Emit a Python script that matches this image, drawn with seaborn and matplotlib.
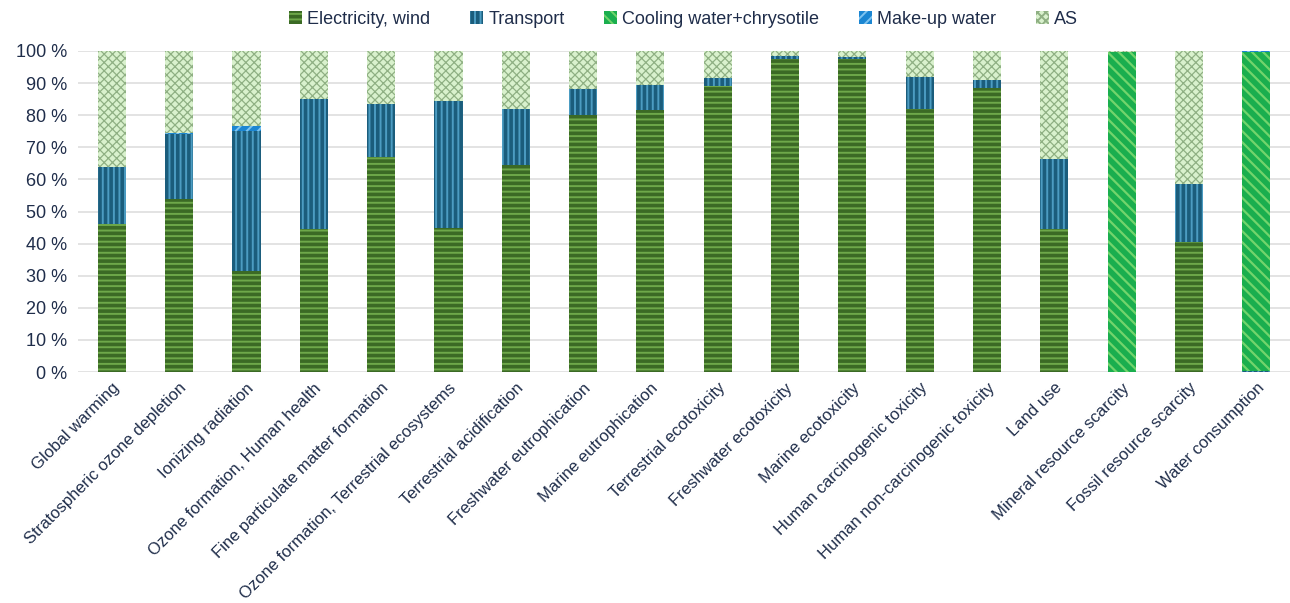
import numpy as np
import matplotlib
matplotlib.use("Agg")
import matplotlib.pyplot as plt
import seaborn as sns
from matplotlib.patches import Patch

categories = [
    "Global warming", "Stratospheric ozone depletion", "Ionizing radiation",
    "Ozone formation, Human health", "Fine particulate matter formation",
    "Ozone formation, Terrestrial ecosystems", "Terrestrial acidification",
    "Freshwater eutrophication", "Marine eutrophication", "Terrestrial ecotoxicity",
    "Freshwater ecotoxicity", "Marine ecotoxicity", "Human carcinogenic toxicity",
    "Human non-carcinogenic toxicity", "Land use", "Mineral resource scarcity",
    "Fossil resource scarcity", "Water consumption",
]

# Shares in percent per impact category
electricity_wind = [46, 54, 31.5, 44.5, 67, 45, 64.5, 80, 81.5, 89, 97.5, 97.5, 82, 88.5, 44.5, 0, 40.5, 0]
transport = [18, 20, 43.5, 40.5, 16.5, 39.5, 17.5, 8, 8, 2.5, 1, 0.5, 10, 2.5, 22, 0, 18, 0.3]
cooling_water = [0, 0, 0, 0, 0, 0, 0, 0, 0, 0, 0, 0, 0, 0, 0, 99.8, 0, 99.4]
makeup_water = [0, 0.5, 1.5, 0, 0, 0, 0, 0, 0, 0, 0, 0, 0, 0, 0, 0, 0, 0.3]

series_names = ["Electricity, wind", "Transport", "Cooling water+chrysotile", "Make-up water", "AS"]

stack = np.array([electricity_wind, transport, cooling_water, makeup_water], dtype=float)
as_share = 100 - stack.sum(axis=0)
stack = np.vstack([stack, as_share])

styles = [
    dict(face="#3b6a25", hatch_col="#6ea84a", hatch="---", hlw=1.4),
    dict(face="#1b5d7c", hatch_col="#4c9cc2", hatch="|||", hlw=1.4),
    dict(face="#1aae4e", hatch_col="#72d46c", hatch="\\\\\\", hlw=1.6),
    dict(face="#1b86d2", hatch_col="#7fc4f0", hatch="///", hlw=1.4),
    dict(face="#d9f1cd", hatch_col="#8fb083", hatch="xxxx", hlw=0.9),
]

sns.set_theme(style="white")
plt.rcParams["font.family"] = ["Liberation Sans", "DejaVu Sans"]
plt.rcParams["hatch.linewidth"] = 1.4

fig = plt.figure(figsize=(12.9, 6.03), dpi=100)
ax = fig.add_axes([0.0605, 0.383, 0.9395, 0.5325])

text_col = "#1f2d4a"
bottom = np.zeros(len(categories))
for name, vals, st in zip(series_names, stack, styles):
    n_before = len(ax.patches)
    sns.barplot(x=categories, y=vals, bottom=bottom, color=st["face"], width=0.42,
                saturation=1, ax=ax, linewidth=0, edgecolor=st["hatch_col"])
    for p in ax.patches[n_before:]:
        p.set_hatch(st["hatch"])
        p.set_facecolor(st["face"])
        p.set_edgecolor(st["hatch_col"])
        p.set_linewidth(0)
        if hasattr(p, "set_hatch_linewidth"):
            p.set_hatch_linewidth(st["hlw"])
    bottom = bottom + vals

ax.set_xlim(-0.5, len(categories) - 0.5)
ax.set_ylim(0, 100)
ax.set_yticks(np.arange(0, 101, 10))
ax.set_yticklabels([f"{v} %" for v in range(0, 101, 10)], fontsize=13, color=text_col)
ax.yaxis.grid(True, color="#dedede", linewidth=1.2)
ax.set_axisbelow(True)
for s in ax.spines.values():
    s.set_visible(False)
ax.tick_params(axis="y", length=0, pad=8)
ax.tick_params(axis="x", length=0, pad=6)
ax.set_xticks(range(len(categories)))
ax.set_xticklabels(categories, rotation=45, ha="right", rotation_mode="anchor",
                   fontsize=12, color=text_col)
ax.set_xlabel("")
ax.set_ylabel("")

handles = [Patch(facecolor=st["face"], edgecolor=st["hatch_col"], hatch=st["hatch"], linewidth=0)
           for st in styles]
fig.legend(handles, series_names, loc="center", bbox_to_anchor=(0.53, 0.968), ncol=5,
           frameon=False, fontsize=13, handlelength=0.7, handleheight=0.7,
           handletextpad=0.3, columnspacing=2.2, labelcolor=text_col)

fig.savefig("out.png", dpi=100, facecolor="white")
